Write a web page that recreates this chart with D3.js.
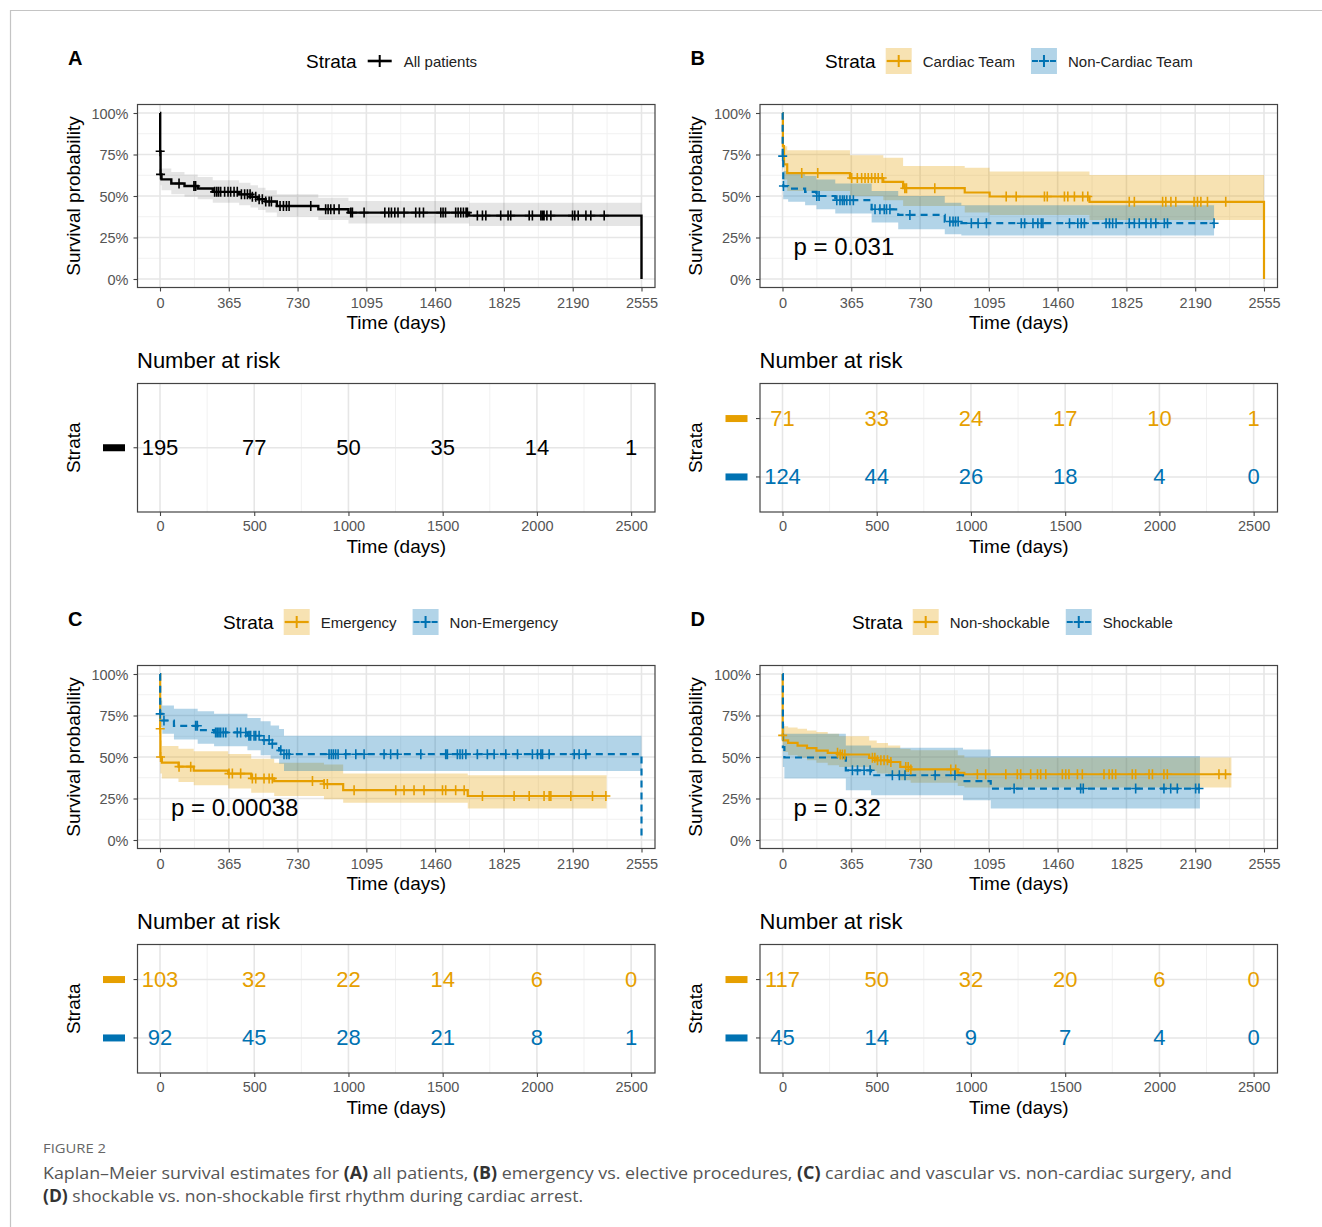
<!DOCTYPE html>
<html><head><meta charset="utf-8">
<script src="https://cdn.jsdelivr.net/npm/d3@7"></script>
<style>body{margin:0;background:#fff}svg{display:block}</style>
</head><body>
<svg id="c" width="1322" height="1227"></svg>
<script>
// ---------------- DATA ----------------
const xTicksDays = [0, 365, 730, 1095, 1460, 1825, 2190, 2555];
const yTicksSurv = [0, 0.25, 0.5, 0.75, 1];
const riskTimes = [0, 500, 1000, 1500, 2000, 2500];

// Panel A: All patients
const aAllTime  = [0, 1, 3, 8, 60, 130, 200, 280, 420, 480, 520, 560, 620, 840, 1000, 1640, 2555];
const aAllSurv  = [1, 0.77, 0.63, 0.60, 0.575, 0.56, 0.545, 0.525, 0.51, 0.495, 0.48, 0.467, 0.44, 0.42, 0.40, 0.382, 0];
const aAllUpper = [1, 0.83, 0.70, 0.665, 0.645, 0.63, 0.615, 0.595, 0.58, 0.565, 0.55, 0.535, 0.51, 0.49, 0.47, 0.46, null];
const aAllLower = [1, 0.71, 0.565, 0.535, 0.51, 0.495, 0.48, 0.46, 0.445, 0.43, 0.415, 0.40, 0.375, 0.355, 0.335, 0.32, null];
const aAllEnd = 2555;
const aAllCensor = [1, 3, 101, 180, 189, 290, 301, 311, 322, 343, 361, 375, 393, 410, 432, 449, 464, 478, 490, 508, 526, 543, 561, 579, 591, 637, 655, 671, 685, 800, 879, 892, 906, 924, 950, 1012, 1021, 1083, 1193, 1214, 1228, 1246, 1263, 1295, 1357, 1377, 1398, 1490, 1502, 1515, 1569, 1582, 1596, 1610, 1624, 1631, 1684, 1711, 1729, 1808, 1847, 1861, 1959, 1976, 2021, 2030, 2038, 2053, 2074, 2189, 2201, 2219, 2260, 2286, 2357];
const aRisk = [195, 77, 50, 35, 14, 1];

// Panel B: Cardiac Team / Non-Cardiac Team
const bCardTime  = [0, 2, 8, 25, 358, 535, 640, 967, 1099, 1629, 2555];
const bCardSurv  = [1, 0.80, 0.69, 0.638, 0.608, 0.585, 0.547, 0.521, 0.497, 0.465, 0];
const bCardUpper = [1, 0.88, 0.80, 0.775, 0.745, 0.73, 0.68, 0.67, 0.648, 0.626, null];
const bCardLower = [1, 0.72, 0.60, 0.53, 0.50, 0.475, 0.44, 0.40, 0.385, 0.356, null];
const bCardEnd = 2555;
const bCardCensor = [102, 187, 367, 397, 420, 438, 455, 473, 491, 508, 529, 649, 658, 808, 1187, 1240, 1390, 1405, 1496, 1514, 1549, 1593, 1620, 1840, 1867, 2017, 2034, 2061, 2087, 2184, 2202, 2220, 2255, 2352];
const bCardRisk = [71, 33, 24, 17, 10, 1];

const bNonTime  = [0, 1, 4, 30, 120, 180, 280, 473, 614, 861, 949];
const bNonSurv  = [1, 0.74, 0.56, 0.545, 0.525, 0.50, 0.475, 0.42, 0.386, 0.346, 0.336];
const bNonUpper = [1, 0.82, 0.65, 0.635, 0.62, 0.60, 0.575, 0.53, 0.50, 0.46, 0.445];
const bNonLower = [1, 0.66, 0.48, 0.465, 0.445, 0.42, 0.395, 0.34, 0.30, 0.27, 0.262];
const bNonEnd = 2290;
const bNonCensor = [1, 5, 182, 194, 288, 305, 318, 328, 341, 358, 376, 491, 517, 540, 552, 570, 676, 888, 905, 918, 932, 1002, 1038, 1082, 1267, 1285, 1329, 1355, 1373, 1382, 1523, 1567, 1585, 1602, 1717, 1735, 1752, 1770, 1840, 1867, 1893, 1929, 1955, 1981, 2026, 2043, 2290];
const bNonRisk = [124, 44, 26, 18, 4, 0];

// Panel C: Emergency / Non-Emergency
const cEmTime  = [0, 1, 2, 10, 98, 179, 362, 484, 606, 870, 972, 1633];
const cEmSurv  = [1, 0.67, 0.50, 0.466, 0.442, 0.418, 0.40, 0.371, 0.355, 0.337, 0.30, 0.265];
const cEmUpper = [1, 0.76, 0.60, 0.566, 0.55, 0.535, 0.518, 0.49, 0.465, 0.455, 0.40, 0.39];
const cEmLower = [1, 0.58, 0.40, 0.37, 0.35, 0.33, 0.31, 0.285, 0.265, 0.245, 0.225, 0.19];
const cEmEnd = 2370;
const cEmCensor = [1, 3, 101, 163, 366, 384, 428, 490, 508, 552, 579, 596, 809, 871, 888, 1030, 1251, 1295, 1348, 1401, 1499, 1516, 1569, 1614, 1711, 1879, 1959, 2038, 2065, 2074, 2180, 2295, 2366];
const cEmRisk = [103, 32, 22, 14, 6, 0];

const cNonTime  = [0, 1, 12, 74, 200, 287, 464, 534, 587, 632, 658, 2555];
const cNonSurv  = [1, 0.76, 0.72, 0.688, 0.662, 0.648, 0.628, 0.602, 0.58, 0.54, 0.517, 0];
const cNonUpper = [1, 0.84, 0.81, 0.79, 0.775, 0.76, 0.735, 0.715, 0.69, 0.668, 0.628, null];
const cNonLower = [1, 0.68, 0.64, 0.605, 0.58, 0.565, 0.54, 0.51, 0.49, 0.46, 0.416, null];
const cNonEnd = 2555;
const cNonCensor = [1, 21, 189, 198, 295, 304, 313, 322, 336, 349, 410, 428, 455, 472, 481, 499, 508, 526, 552, 579, 596, 641, 658, 672, 685, 897, 909, 920, 932, 945, 986, 1039, 1083, 1189, 1224, 1260, 1384, 1516, 1525, 1578, 1592, 1605, 1623, 1684, 1737, 1773, 1835, 1897, 1976, 2003, 2021, 2030, 2065, 2198, 2224, 2260];
const cNonRisk = [92, 45, 28, 21, 8, 1];

// Panel D: Non-shockable / Shockable
const dNsTime  = [0, 1, 5, 30, 80, 130, 180, 240, 300, 460, 500, 560, 625, 680, 930, 965];
const dNsSurv  = [1, 0.63, 0.60, 0.585, 0.568, 0.553, 0.538, 0.525, 0.515, 0.495, 0.48, 0.47, 0.44, 0.425, 0.405, 0.396];
const dNsUpper = [1, 0.70, 0.685, 0.678, 0.67, 0.66, 0.65, 0.64, 0.625, 0.60, 0.585, 0.57, 0.55, 0.54, 0.51, 0.497];
const dNsLower = [1, 0.56, 0.53, 0.51, 0.495, 0.48, 0.465, 0.45, 0.44, 0.415, 0.40, 0.39, 0.36, 0.345, 0.325, 0.316];
const dNsEnd = 2382;
const dNsCensor = [1, 292, 306, 318, 331, 477, 490, 504, 522, 539, 557, 575, 654, 667, 681, 893, 919, 1034, 1078, 1185, 1246, 1264, 1317, 1353, 1370, 1397, 1485, 1503, 1520, 1565, 1591, 1706, 1733, 1750, 1768, 1856, 1874, 1945, 1963, 2024, 2042, 2316, 2351];
const dNsRisk = [117, 50, 32, 20, 6, 0];

const dShTime  = [0, 2, 10, 336, 470, 958, 1105];
const dShSurv  = [1, 0.56, 0.497, 0.42, 0.39, 0.355, 0.31];
const dShUpper = [1, 0.70, 0.64, 0.57, 0.555, 0.545, 0.506];
const dShLower = [1, 0.44, 0.37, 0.30, 0.27, 0.24, 0.19];
const dShEnd = 2215;
const dShCensor = [371, 398, 433, 465, 583, 620, 650, 810, 915, 1229, 1582, 1596, 1874, 2024, 2060, 2095, 2192, 2210];
const dShRisk = [45, 14, 9, 7, 4, 0];

const pValues = ["p = 0.031", "p = 0.00038", "p = 0.32"];

// ---------------- STYLE ----------------
const ORANGE = "#E69F00", BLUE = "#0072B2", BLACK = "#000000";
const FONT = "'Liberation Sans', Arial, Helvetica, sans-serif";

const svg = d3.select("#c");
svg.append("rect").attr("width", 1322).attr("height", 1227).attr("fill", "#fff");
// outer frame
svg.append("line").attr("x1", 10).attr("x2", 1322).attr("y1", 10.5).attr("y2", 10.5).attr("stroke", "#c4c4c4").attr("stroke-width", 1.2);
svg.append("line").attr("x1", 10.5).attr("x2", 10.5).attr("y1", 10).attr("y2", 1227).attr("stroke", "#c4c4c4").attr("stroke-width", 1.2);

function mkCurve(time, surv, upper, lower, end, censor, color, dash, label, risk) {
  return {time, surv, upper, lower, end, censor, color, dash, label, risk};
}

const panels = [
  { letter: "A", ox: 0, oy: 0, legendX: 306, pval: null,
    curves: [mkCurve(aAllTime, aAllSurv, aAllUpper, aAllLower, aAllEnd, aAllCensor, BLACK, null, "All patients", aRisk)] },
  { letter: "B", ox: 622.5, oy: 0, legendX: 825, pval: pValues[0],
    curves: [mkCurve(bCardTime, bCardSurv, bCardUpper, bCardLower, bCardEnd, bCardCensor, ORANGE, null, "Cardiac Team", bCardRisk),
             mkCurve(bNonTime, bNonSurv, bNonUpper, bNonLower, bNonEnd, bNonCensor, BLUE, "7,5", "Non-Cardiac Team", bNonRisk)] },
  { letter: "C", ox: 0, oy: 561, legendX: 223, pval: pValues[1],
    curves: [mkCurve(cEmTime, cEmSurv, cEmUpper, cEmLower, cEmEnd, cEmCensor, ORANGE, null, "Emergency", cEmRisk),
             mkCurve(cNonTime, cNonSurv, cNonUpper, cNonLower, cNonEnd, cNonCensor, BLUE, "7,5", "Non-Emergency", cNonRisk)] },
  { letter: "D", ox: 622.5, oy: 561, legendX: 852, pval: pValues[2],
    curves: [mkCurve(dNsTime, dNsSurv, dNsUpper, dNsLower, dNsEnd, dNsCensor, ORANGE, null, "Non-shockable", dNsRisk),
             mkCurve(dShTime, dShSurv, dShUpper, dShLower, dShEnd, dShCensor, BLUE, "7,5", "Shockable", dShRisk)] }
];

function stepAt(c, t) {
  let v = c.surv[0];
  for (let i = 0; i < c.time.length; i++) if (c.time[i] <= t) v = c.surv[i];
  return v;
}
function linePts(c) {
  const pts = c.time.map((t, i) => [t, c.surv[i]]);
  const last = pts[pts.length - 1];
  if (c.end > last[0]) pts.push([c.end, last[1]]);
  return pts;
}
function bandPts(c) {
  const pts = [];
  for (let i = 0; i < c.time.length; i++) {
    if (c.upper[i] == null) { const p = pts[pts.length - 1]; pts.push([c.time[i], p[1], p[2]]); return pts; }
    pts.push([c.time[i], c.upper[i], c.lower[i]]);
  }
  const p = pts[pts.length - 1];
  pts.push([c.end, p[1], p[2]]);
  return pts;
}
function fillColor(col) { return col === BLACK ? "rgba(0,0,0,0.10)" : d3.color(col).copy({opacity: 0.3}).toString(); }

panels.forEach((P, pi) => {
  const g = svg.append("g").attr("transform", `translate(${P.ox},${P.oy})`).attr("font-family", FONT);
  const R = {l: 137.5, r: 655, t: 104.5, b: 287.5};
  const x = d3.scaleLinear().domain([0, 2555]).range([160, 641.5]);
  const y = d3.scaleLinear().domain([0, 1]).range([279, 113]);

  // letter
  g.append("text").attr("x", 68).attr("y", 58).attr("dominant-baseline", "central")
    .attr("font-size", 20).attr("font-weight", "bold").text(P.letter);

  // legend
  const lg = g.append("g");
  let lx = P.legendX - P.ox;
  const ly = 61;
  const st = lg.append("text").attr("x", lx).attr("y", ly).attr("dominant-baseline", "central").attr("font-size", 19).text("Strata");
  lx += st.node().getComputedTextLength() + 10;
  P.curves.forEach(c => {
    if (c.color !== BLACK) lg.append("rect").attr("x", lx).attr("y", ly - 13).attr("width", 26).attr("height", 26).attr("fill", fillColor(c.color));
    lg.append("line").attr("x1", lx + 1).attr("x2", lx + 25).attr("y1", ly).attr("y2", ly)
      .attr("stroke", c.color).attr("stroke-width", c.color === BLACK ? 2.6 : 2.2).attr("stroke-dasharray", c.dash ? "6,3" : null);
    lg.append("path").attr("d", `M${lx + 13},${ly - 6}V${ly + 6}M${lx + 8},${ly}H${lx + 18}`).attr("stroke", c.color).attr("stroke-width", 2);
    lx += 26 + 11;
    const t = lg.append("text").attr("x", lx).attr("y", ly).attr("dominant-baseline", "central").attr("font-size", 15).attr("fill", "#222").text(c.label);
    lx += t.node().getComputedTextLength() + 16;
  });

  // ---- survival plot ----
  const minorX = xTicksDays.slice(1).map((d, i) => (d + xTicksDays[i]) / 2);
  const minorY = yTicksSurv.slice(1).map((d, i) => (d + yTicksSurv[i]) / 2);
  const grid = g.append("g");
  minorX.forEach(d => grid.append("line").attr("x1", x(d)).attr("x2", x(d)).attr("y1", R.t).attr("y2", R.b).attr("stroke", "#f1f1f1").attr("stroke-width", 1));
  minorY.forEach(d => grid.append("line").attr("y1", y(d)).attr("y2", y(d)).attr("x1", R.l).attr("x2", R.r).attr("stroke", "#f1f1f1").attr("stroke-width", 1));
  xTicksDays.forEach(d => grid.append("line").attr("x1", x(d)).attr("x2", x(d)).attr("y1", R.t).attr("y2", R.b).attr("stroke", "#e6e6e6").attr("stroke-width", 1.6));
  yTicksSurv.forEach(d => grid.append("line").attr("y1", y(d)).attr("y2", y(d)).attr("x1", R.l).attr("x2", R.r).attr("stroke", "#e6e6e6").attr("stroke-width", 1.6));

  const clipId = "clip" + pi;
  g.append("clipPath").attr("id", clipId).append("rect").attr("x", R.l).attr("y", R.t).attr("width", R.r - R.l).attr("height", R.b - R.t);
  const plot = g.append("g").attr("clip-path", `url(#${clipId})`);

  const area = d3.area().curve(d3.curveStepAfter).x(d => x(d[0])).y0(d => y(d[2])).y1(d => y(d[1]));
  const line = d3.line().curve(d3.curveStepAfter).x(d => x(d[0])).y(d => y(d[1]));
  P.curves.forEach(c => plot.append("path").attr("d", area(bandPts(c))).attr("fill", fillColor(c.color)));
  P.curves.forEach(c => {
    plot.append("path").attr("d", line(linePts(c))).attr("fill", "none").attr("stroke", c.color)
      .attr("stroke-width", c.color === BLACK ? 2.4 : 2.2).attr("stroke-dasharray", c.dash);
  });
  P.curves.forEach(c => {
    plot.append("path").attr("fill", "none").attr("stroke", c.color).attr("stroke-width", 1.6)
      .attr("d", c.censor.map(t => { const cx = x(t), cy = y(stepAt(c, t)); return `M${cx},${cy - 5}V${cy + 5}M${cx - 4.5},${cy}H${cx + 4.5}`; }).join(""));
  });

  g.append("rect").attr("x", R.l).attr("y", R.t).attr("width", R.r - R.l).attr("height", R.b - R.t)
    .attr("fill", "none").attr("stroke", "#444").attr("stroke-width", 1.2);

  // axes
  const xa = g.append("g").attr("transform", `translate(0,${R.b})`)
    .call(d3.axisBottom(x).tickValues(xTicksDays).tickSize(4).tickFormat(d3.format("d")));
  const ya = g.append("g").attr("transform", `translate(${R.l},0)`)
    .call(d3.axisLeft(y).tickValues(yTicksSurv).tickSize(4).tickFormat(d3.format(".0%")));
  [xa, ya].forEach(a => { a.select(".domain").remove(); a.selectAll(".tick line").attr("stroke", "#444").attr("stroke-width", 1.1);
    a.selectAll("text").attr("font-family", FONT).attr("font-size", 14.5).attr("fill", "#555"); });
  xa.selectAll("text").attr("y", 15).attr("dy", null).attr("dominant-baseline", "central");
  ya.selectAll("text").attr("x", -9).attr("dy", null).attr("dominant-baseline", "central");

  g.append("text").attr("x", (R.l + R.r) / 2).attr("y", 322).attr("text-anchor", "middle").attr("dominant-baseline", "central")
    .attr("font-size", 19).text("Time (days)");
  g.append("text").attr("transform", `translate(73,${(R.t + R.b) / 2}) rotate(-90)`).attr("text-anchor", "middle").attr("dominant-baseline", "central")
    .attr("font-size", 19).text("Survival probability");

  if (P.pval) g.append("text").attr("x", 171).attr("y", 246).attr("dominant-baseline", "central").attr("font-size", 24).text(P.pval);

  // ---- risk table ----
  const T = {l: 137.5, r: 655, t: 383.5, b: 512};
  g.append("text").attr("x", 137).attr("y", 360).attr("dominant-baseline", "central").attr("font-size", 22).text("Number at risk");
  const rt = g.append("g");
  const ry = d3.scalePoint().domain(P.curves.map(c => c.label)).range([T.t, T.b]).padding(0.6);
  const minorR = riskTimes.slice(1).map((d, i) => (d + riskTimes[i]) / 2);
  minorR.forEach(d => rt.append("line").attr("x1", x(d)).attr("x2", x(d)).attr("y1", T.t).attr("y2", T.b).attr("stroke", "#f1f1f1").attr("stroke-width", 1));
  riskTimes.forEach(d => rt.append("line").attr("x1", x(d)).attr("x2", x(d)).attr("y1", T.t).attr("y2", T.b).attr("stroke", "#e6e6e6").attr("stroke-width", 1.6));
  P.curves.forEach(c => rt.append("line").attr("x1", T.l).attr("x2", T.r).attr("y1", ry(c.label)).attr("y2", ry(c.label)).attr("stroke", "#e6e6e6").attr("stroke-width", 1.6));
  P.curves.forEach(c => {
    c.risk.forEach((n, i) => rt.append("text").attr("x", x(riskTimes[i])).attr("y", ry(c.label)).attr("text-anchor", "middle")
      .attr("dominant-baseline", "central").attr("font-size", 22).attr("fill", c.color).text(n));
    rt.append("rect").attr("x", 103).attr("y", ry(c.label) - 3.5).attr("width", 22).attr("height", 7).attr("fill", c.color);
    rt.append("line").attr("x1", T.l - 4).attr("x2", T.l).attr("y1", ry(c.label)).attr("y2", ry(c.label)).attr("stroke", "#444").attr("stroke-width", 1.1);
  });
  rt.append("rect").attr("x", T.l).attr("y", T.t).attr("width", T.r - T.l).attr("height", T.b - T.t)
    .attr("fill", "none").attr("stroke", "#444").attr("stroke-width", 1.2);
  const ra = g.append("g").attr("transform", `translate(0,${T.b})`)
    .call(d3.axisBottom(x).tickValues(riskTimes).tickSize(4).tickFormat(d3.format("d")));
  ra.select(".domain").remove();
  ra.selectAll(".tick line").attr("stroke", "#444").attr("stroke-width", 1.1);
  ra.selectAll("text").attr("font-family", FONT).attr("font-size", 14.5).attr("fill", "#555").attr("y", 14).attr("dy", null).attr("dominant-baseline", "central");
  g.append("text").attr("x", (T.l + T.r) / 2).attr("y", 546).attr("text-anchor", "middle").attr("dominant-baseline", "central")
    .attr("font-size", 19).text("Time (days)");
  g.append("text").attr("transform", `translate(73,${(T.t + T.b) / 2}) rotate(-90)`).attr("text-anchor", "middle").attr("dominant-baseline", "central")
    .attr("font-size", 19).text("Strata");
});

// ---------------- CAPTION ----------------
const capFont = "'Open Sans', 'Noto Sans', sans-serif";
svg.append("text").attr("x", 43).attr("y", 1148).attr("dominant-baseline", "central").attr("font-family", capFont)
  .attr("font-size", 13).attr("fill", "#666").attr("textLength", 63).attr("lengthAdjust", "spacingAndGlyphs").text("FIGURE 2");
const capLines = [
  {y: 1172, w: 1189, parts: [["Kaplan–Meier survival estimates for ", false], ["(A)", true], [" all patients, ", false], ["(B)", true], [" emergency vs. elective procedures, ", false], ["(C)", true], [" cardiac and vascular vs. non-cardiac surgery, and", false]]},
  {y: 1195, w: 540, parts: [["(D)", true], [" shockable vs. non-shockable first rhythm during cardiac arrest.", false]]}
];
capLines.forEach(L => {
  const t = svg.append("text").attr("x", 43).attr("y", L.y).attr("dominant-baseline", "central").attr("font-family", capFont)
    .attr("font-size", 17).attr("fill", "#555").attr("textLength", L.w).attr("lengthAdjust", "spacingAndGlyphs");
  L.parts.forEach(([s, b]) => t.append("tspan").attr("font-weight", b ? "bold" : null).attr("fill", b ? "#333" : null).text(s));
});
</script>
</body></html>
